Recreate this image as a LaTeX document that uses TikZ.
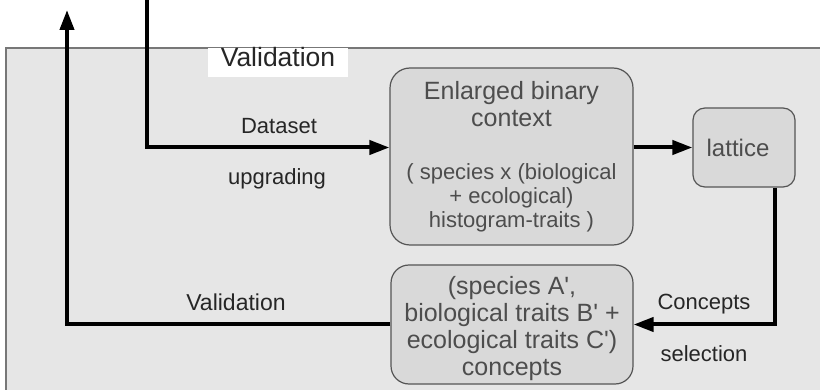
\documentclass[tikz,border=0pt]{standalone}
\usepackage{fontspec}
\setmainfont{Liberation Sans}
\usetikzlibrary{arrows.meta}
\definecolor{panelgray}{HTML}{E6E6E6}
\definecolor{boxgray}{HTML}{D9D9D9}
\definecolor{edgegray}{HTML}{555555}
\definecolor{textgray}{HTML}{4D4D4D}
\newcommand\detailsize{\fontsize{22}{24}\selectfont}

\begin{document}
\begin{tikzpicture}[x=1pt, y=-1pt,
  box/.style={draw=edgegray, line width=1.2pt, fill=boxgray, rounded corners=#1,
    text=textgray, align=center, inner sep=0pt,
    font=\fontsize{25}{27}\selectfont},
  flow/.style={line width=4pt, -{Triangle[length=20pt, width=14pt]}},
  lbl/.style={anchor=base, text=black!85, font=\fontsize{22}{24}\selectfont}]

  \useasboundingbox (0,0) rectangle (820,390);
  \clip (0,0) rectangle (820,390);

  % grey panel, runs off the right and bottom edges
  \draw[fill=panelgray, draw=edgegray!80, line width=1.2pt] (6,48) rectangle (840,410);
  \node[fill=white, anchor=base, text=black!85, inner xsep=0pt, inner ysep=0pt,
    minimum width=140pt, text height=19pt, text depth=10pt,
    font=\fontsize{26.5}{28}\selectfont] (valTab) at (278,67) {Validation};

  % boxes
  \node[box=20pt, minimum width=243pt, minimum height=177pt] (ctx) at (511.5,156.5)
    {Enlarged binary\\context\\[26pt]\detailsize ( species x (biological\\[-3pt]\detailsize + ecological)\\[-3pt]\detailsize histogram-traits )};
  \node[box=12pt, minimum width=102pt, minimum height=79pt,
    font=\fontsize{24}{26}\selectfont] (lat) at (744,147.5) {lattice\hspace{12pt}};
  \node[box=18pt, minimum width=242pt, minimum height=119pt] (conc) at (512,324.5)
    {\rule{0pt}{26pt}(species A\textquotesingle,\\biological traits B\textquotesingle\ +\\ecological traits C\textquotesingle)\\concepts};

  \coordinate (dsTop) at (147,0);
  \coordinate (valTop) at (67,10);
  \coordinate (selTurn) at (775,324.5);

  % flow
  \draw[flow] (dsTop) |- (ctx.west |- lat.west);
  \draw[flow] (ctx.east |- lat.west) -- (lat.west);
  \draw[flow] (lat.south -| selTurn) -- (selTurn) -- (conc.east);
  \draw[flow] (conc.west) -| (valTop);

  \node[lbl] (dsLbl) at (279,134) {Dataset};
  \node[lbl] (upLbl) at (277,185) {upgrading};
  \node[lbl, font=\fontsize{23}{25}\selectfont] (valLbl) at (236,311) {Validation};
  \node[lbl] (conLbl) at (704,309) {Concepts};
  \node[lbl] (selLbl) at (704,362) {selection};
\end{tikzpicture}
\end{document}
